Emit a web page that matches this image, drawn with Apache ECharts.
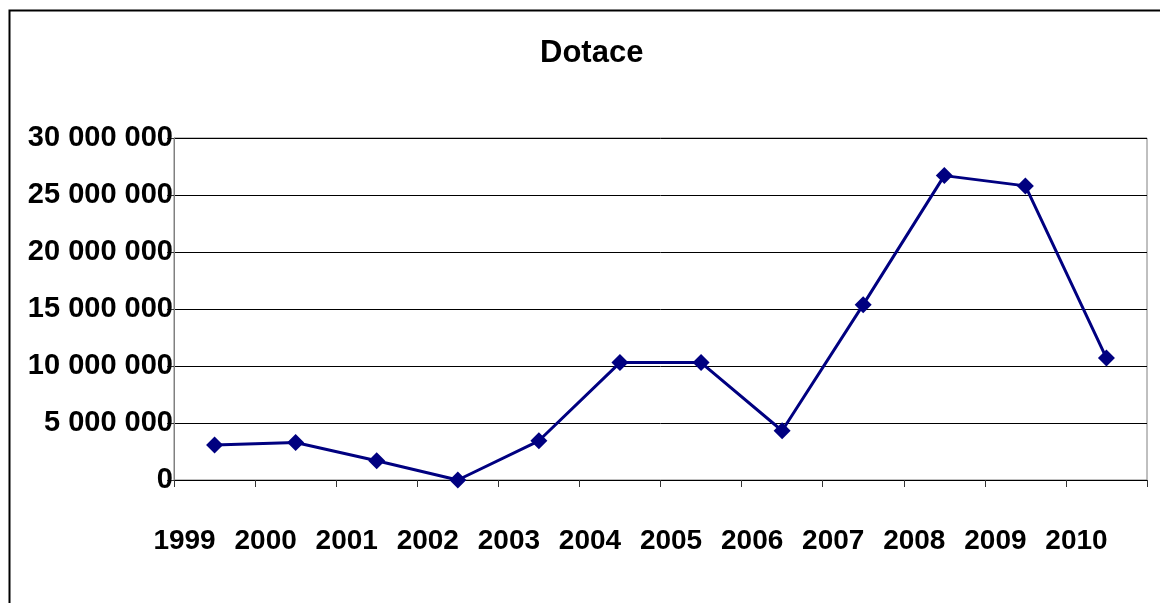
<!DOCTYPE html>
<html>
<head>
<meta charset="utf-8">
<script src="https://cdn.jsdelivr.net/npm/echarts@6/dist/echarts.min.js"></script>
<style>
  html, body { margin: 0; padding: 0; background: #fff; }
  #chart { width: 1160px; height: 603px; }
</style>
</head>
<body>
<div id="chart"></div>
<script>
// data
const years = ['1999', '2000', '2001', '2002', '2003', '2004', '2005', '2006', '2007', '2008', '2009', '2010'];
const dotace = [3060000, 3290000, 1690000, 0, 3440000, 10300000, 10300000, 4320000, 15380000, 26700000, 25800000, 10700000];
const yTicks = [0, 5000000, 10000000, 15000000, 20000000, 25000000, 30000000];

const navy = '#000080';
const font = '"Liberation Sans", Arial, sans-serif';

// 30000000 -> "30 000 000"
function spaced(v) {
  return String(v).replace(/\B(?=(\d{3})+(?!\d))/g, ' ');
}

const chart = echarts.init(document.getElementById('chart'));

chart.setOption({
  backgroundColor: '#fff',
  animation: false,
  title: {
    text: 'Dotace',
    left: 535,
    top: 33,
    textStyle: { fontFamily: font, fontSize: 31, fontWeight: 'bold', color: '#000' }
  },
  // outer frame, clipped by the canvas on the right and bottom
  graphic: [{
    type: 'rect',
    left: 7,
    top: 8,
    shape: { width: 1300, height: 800 },
    style: { fill: 'none', stroke: '#000', lineWidth: 2 },
    z: 100
  }],
  grid: {
    left: 174,
    right: 13,
    top: 138,
    bottom: 123,
    show: true,
    borderColor: '#808080',
    borderWidth: 1
  },
  xAxis: {
    type: 'category',
    data: years,
    boundaryGap: true,
    axisLine: { show: true, lineStyle: { color: '#000', width: 1 } },
    axisTick: { show: true, inside: false, length: 7, lineStyle: { color: '#333', width: 1 } },
    axisLabel: {
      margin: 47,
      fontFamily: font,
      fontSize: 28,
      fontWeight: 'bold',
      color: '#000',
      padding: [0, 60, 0, 0]
    }
  },
  yAxis: {
    type: 'value',
    min: yTicks[0],
    max: yTicks[yTicks.length - 1],
    interval: yTicks[1] - yTicks[0],
    axisLine: { show: true, lineStyle: { color: '#808080', width: 1 } },
    axisTick: { show: true, inside: false, length: 7, lineStyle: { color: '#333', width: 1 } },
    splitLine: { show: true, lineStyle: { color: '#000', width: 1 } },
    axisLabel: {
      margin: 1,
      fontFamily: font,
      fontSize: 29,
      fontWeight: 'bold',
      color: '#000',
      formatter: spaced
    }
  },
  series: [{
    name: 'Dotace',
    type: 'line',
    data: dotace,
    symbol: 'diamond',
    symbolSize: 17,
    lineStyle: { color: navy, width: 3 },
    itemStyle: { color: navy },
    z: 5
  }]
});
</script>
</body>
</html>
